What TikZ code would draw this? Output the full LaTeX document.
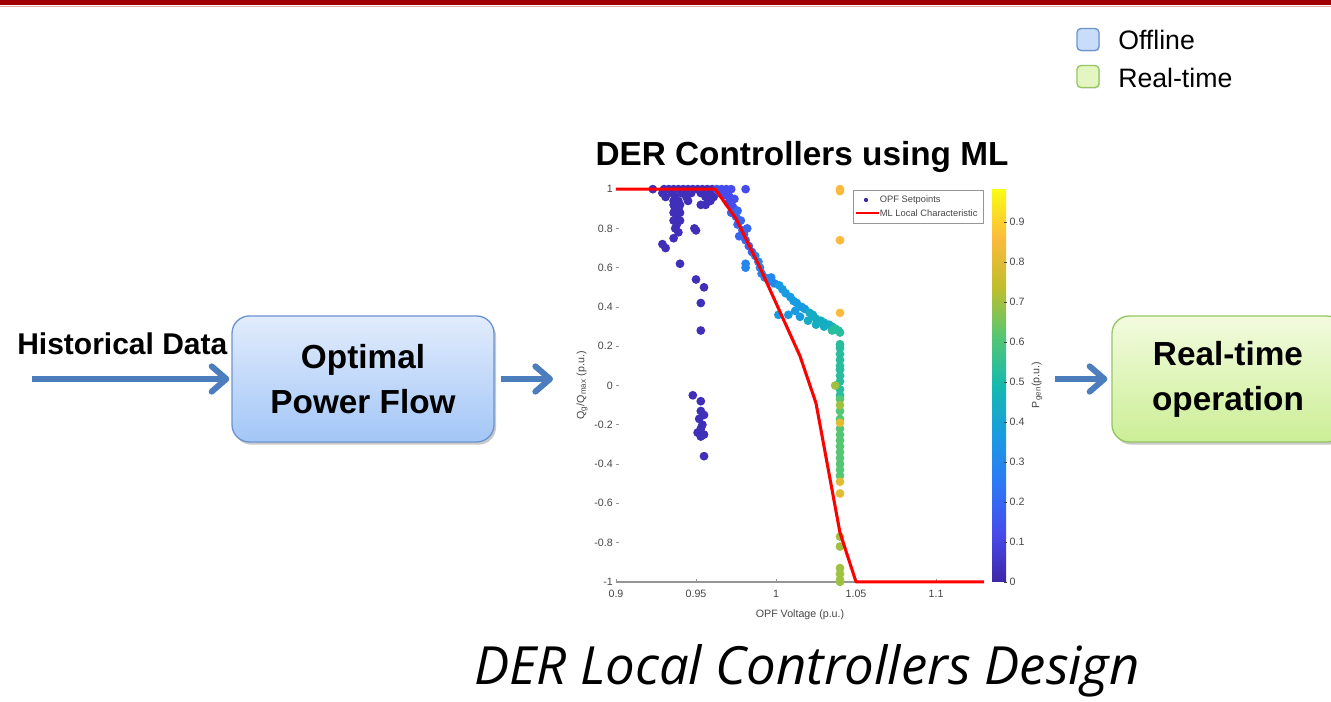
\documentclass[tikz,border=0pt]{standalone}
\usepackage{fontspec}
\setmainfont{Liberation Sans}
\newfontfamily\captionfont{Open Sans}
\usetikzlibrary{positioning,calc,arrows.meta,shadows}
\definecolor{slideRed}{RGB}{160,0,0}
\definecolor{slidePink}{RGB}{228,170,170}
\definecolor{flowBlue}{RGB}{76,126,190}
\definecolor{offTop}{RGB}{226,236,252}
\definecolor{offBottom}{RGB}{163,198,247}
\definecolor{offEdge}{RGB}{108,148,208}
\definecolor{rtTop}{RGB}{242,251,222}
\definecolor{rtBottom}{RGB}{204,238,150}
\definecolor{rtEdge}{RGB}{150,198,100}
\definecolor{axisGray}{RGB}{150,150,150}
\definecolor{tickGray}{RGB}{70,70,70}
\definecolor{parula0}{RGB}{62,38,168}
\definecolor{parula1}{RGB}{70,75,235}
\definecolor{parula2}{RGB}{45,120,245}
\definecolor{parula3}{RGB}{25,155,225}
\definecolor{parula4}{RGB}{20,185,175}
\definecolor{parula5}{RGB}{85,198,115}
\definecolor{parula6}{RGB}{190,190,45}
\definecolor{parula7}{RGB}{252,186,60}
\definecolor{parula8}{RGB}{249,251,20}
\pgfdeclareverticalshading{parulabar}{100bp}{color(0bp)=(parula0); color(25bp)=(parula0);
  color(31.25bp)=(parula1); color(37.5bp)=(parula2); color(43.75bp)=(parula3);
  color(50bp)=(parula4); color(56.25bp)=(parula5); color(62.5bp)=(parula6);
  color(68.75bp)=(parula7); color(75bp)=(parula8); color(100bp)=(parula8)}

\begin{document}
\begin{tikzpicture}[
  x=0.75pt,y=0.75pt,
  every node/.style={align=center},
  flowbox/.style={rounded corners=13pt, line width=1pt, minimum width=196.5pt, minimum height=94.5pt,
    font=\fontsize{25}{33.75}\selectfont\bfseries,
    drop shadow={shadow xshift=1.5pt, shadow yshift=-2pt, opacity=0.3, fill=black!70}},
  flowarrow/.style={draw=flowBlue, line width=4.5pt, -{Straight Barb[length=11pt,width=19pt,round]}},
  keybox/.style={rounded corners=3pt, line width=1pt, minimum size=16.5pt, inner sep=0pt,
    drop shadow={shadow xshift=0.6pt, shadow yshift=-0.8pt, opacity=0.25}},
  keytext/.style={font=\fontsize{20}{24}\selectfont, anchor=base west, inner sep=0pt},
  tick/.style={font=\fontsize{8}{9}\selectfont, text=tickGray, inner sep=1pt},
  axislabel/.style={font=\fontsize{8}{9}\selectfont, text=tickGray, inner sep=1pt},
  keysmall/.style={font=\fontsize{7}{8}\selectfont, text=tickGray, inner sep=0.5pt}
]
\path[use as bounding box] (0,0) rectangle (1331,702);

% slide header bar
\fill[slideRed] (0,697) rectangle (1331,702);
\draw[slidePink, line width=0.6pt] (0,696) -- (1331,696);

% Offline / Real-time key
\node[keybox, draw=offEdge, fill=offTop!60!offBottom] (keyoff) at (1088,662.5) {};
\node[keytext] (keyofftext) at (1118,652) {Offline};
\node[keybox, draw=rtEdge, fill=rtTop!60!rtBottom] (keyrt) at (1088,625.5) {};
\node[keytext] (keyrttext) at (1118,614) {Real-time};

% flow
\node[font=\fontsize{22.5}{27}\selectfont\bfseries, anchor=base west, inner sep=0pt] (hist) at (17,347) {Historical Data};
\node[flowbox, draw=offEdge, top color=offTop, bottom color=offBottom] (opf) at (363,323) {Optimal\\Power Flow};
\node[flowbox, draw=rtEdge, top color=rtTop, bottom color=rtBottom, minimum width=174pt] (rt) at (1228,323) {Real-time\\operation};

\coordinate (histin) at (32,323);
\coordinate (plotin) at (553,323);
\coordinate (plotout) at (1055,323);
\draw[flowarrow, shorten >=1.5pt] (histin) -- (opf.west);
\draw[flowarrow, shorten <=4.5pt] (opf.east) -- (plotin);
\draw[flowarrow, shorten >=3pt] (plotout) -- (rt.west);

\node[font=\fontsize{25}{30}\selectfont\bfseries, anchor=base] (title) at (802,536) {DER Controllers using ML};

% scatter plot, data coordinates
\begin{scope}[shift={(-824,316.5)}, x=1200pt, y=147.26pt]
  \draw[axisGray, line width=1.1pt] (0.9,-1) -- (1.13,-1);
  \foreach \v [count=\i] in {0.9,0.95,1,1.05,1.1} {
    \draw[axisGray, line width=0.5pt] (\v,-1) -- ++(0,2.5pt);
    \node[tick, anchor=north] (xtick\i) at (\v,-1.035) {\v};
  }
  \foreach \q [count=\i] in {1,0.8,0.6,0.4,0.2,0,-0.2,-0.4,-0.6,-0.8,-1} {
    \draw[axisGray, line width=0.5pt] (0.9,\q) -- ++(2.5pt,0);
    \node[tick, anchor=east] (ytick\i) at (0.899,\q) {\q};
  }

  % OPF setpoints
  \foreach \v/\q in {0.923/1,0.930/1,0.933/1,0.936/1,0.939/1,0.942/1,0.945/1,0.948/1,0.951/1,0.954/1,0.957/1,0.960/1,
      0.929/0.98,0.935/0.98,0.941/0.98,0.947/0.98,0.953/0.98,0.958/0.98,0.931/0.96,0.937/0.96,0.944/0.96,0.956/0.96,0.961/0.96,
      0.936/0.94,0.939/0.94,0.945/0.94,0.959/0.94,0.936/0.92,0.940/0.92,0.953/0.92,0.956/0.92,0.937/0.90,0.939/0.90,
      0.936/0.88,0.940/0.88,0.938/0.86,0.936/0.84,0.940/0.84,0.938/0.82,0.937/0.80,0.949/0.80,0.950/0.79,0.939/0.78,
      0.936/0.75,0.929/0.72,0.931/0.70,0.940/0.62,0.950/0.54,0.955/0.50,0.953/0.42,0.953/0.28,
      0.948/-0.05,0.953/-0.08,0.953/-0.13,0.955/-0.15,0.952/-0.17,0.954/-0.20,0.953/-0.22,0.951/-0.24,0.955/-0.25,0.953/-0.26,0.955/-0.36}
    \fill[parula0!75!parula1] (\v,\q) circle (3.3pt);
  \foreach \v/\q in {0.963/1,0.966/1,0.969/1,0.972/1,0.965/0.98,0.968/0.97,0.970/0.99,0.981/1,0.971/0.96,0.974/0.95,0.970/0.93,0.973/0.91}
    \fill[parula1] (\v,\q) circle (3.3pt);
  \foreach \v/\q in {0.976/0.89,0.972/0.88,0.975/0.86,0.978/0.84,0.976/0.82,0.979/0.79,0.977/0.76,0.981/0.74,0.983/0.71,0.985/0.68,0.980/0.77,0.982/0.80}
    \fill[parula1!40!parula2] (\v,\q) circle (3.3pt);
  \foreach \v/\q in {0.987/0.66,0.989/0.63,0.990/0.60,0.991/0.57,0.993/0.55,0.996/0.53,0.981/0.62,0.981/0.60,0.997/0.55,0.999/0.52}
    \fill[parula2!60!parula3] (\v,\q) circle (3.3pt);
  \foreach \v/\q in {1.002/0.51,1.004/0.49,1.006/0.47,1.009/0.45,1.011/0.43,1.013/0.42,1.016/0.40,1.0015/0.36,1.0077/0.36,1.012/0.38,1.015/0.35,1.018/0.39}
    \fill[parula3] (\v,\q) circle (3.3pt);
  \foreach \v/\q in {1.021/0.37,1.023/0.36,1.025/0.34,1.028/0.33,1.030/0.32,1.020/0.33,1.025/0.31,1.030/0.30,1.033/0.31,1.035/0.30}
    \fill[parula3!40!parula4] (\v,\q) circle (3.3pt);
  \foreach \v/\q in {1.037/0.29,1.039/0.28,1.035/0.28,1.040/0.27,1.040/0.21,1.040/0.19,1.040/0.16,1.040/0.13,1.040/0.10,1.040/0.08,1.040/0.05,1.040/0.02,1.040/-0.02,1.040/-0.05}
    \fill[parula4!70!parula5] (\v,\q) circle (3.3pt);
  \foreach \v/\q in {1.040/-0.07,1.040/-0.13,1.040/-0.17,1.040/-0.22,1.040/-0.25,1.040/-0.28,1.040/-0.31,1.040/-0.34,1.040/-0.37,1.040/-0.40,1.040/-0.43,1.040/-0.46}
    \fill[parula5] (\v,\q) circle (3.3pt);
  \foreach \v/\q in {1.037/0,1.040/-0.10,1.040/-0.77,1.040/-0.82,1.040/-0.93,1.040/-0.96,1.040/-0.99,1.040/-1}
    \fill[parula5!30!parula6] (\v,\q) circle (3.3pt);
  \foreach \v/\q in {1.040/-0.19,1.040/-0.49,1.040/-0.55}
    \fill[parula6!40!parula7] (\v,\q) circle (3.3pt);
  \foreach \v/\q in {1.040/1,1.040/0.99,1.040/0.74,1.040/0.37}
    \fill[parula7] (\v,\q) circle (3.3pt);

  % ML local characteristic
  \draw[red, line width=2.3pt, line join=round]
    (0.9,1) -- (0.962,1) -- (0.975,0.85) -- (0.99,0.6) -- (1.0,0.42) -- (1.015,0.15)
    -- (1.025,-0.09) -- (1.04,-0.75) -- (1.05,-1) -- (1.13,-1);

  \node[axislabel, rotate=90] (ylab) at (0.8788,0) {Q\textsubscript{g}/Q\textsubscript{max} (p.u.)};
  \node[axislabel] (xlab) at (1.015,-1.17) {OPF Voltage (p.u.)};
\end{scope}

% plot legend
\node[draw=axisGray, fill=white, line width=0.6pt, minimum width=97.5pt, minimum height=24.75pt, inner sep=0pt] (plotkey) at (918,495.5) {};
\fill[parula0] (866,502) circle (1.6pt);
\node[keysmall, anchor=west] (keyopf) at (879,502) {OPF Setpoints};
\draw[red, line width=1.8pt] (856,489) -- (879,489);
\node[keysmall, anchor=west] (keyml) at (879,489) {ML Local Characteristic};

% colorbar
\shade[shading=parulabar] (992,120) rectangle (1006,512);
\foreach \p [count=\i] in {0,0.1,0.2,0.3,0.4,0.5,0.6,0.7,0.8,0.9} {
  \draw[tickGray, line width=0.4pt] (1004,{120+\p*400}) -- (1007,{120+\p*400});
  \node[tick, anchor=west] (ctick\i) at (1008,{120+\p*400}) {\p};
}
\node[axislabel, rotate=90] (cbarlab) at (1037,317) {P\textsubscript{gen}(p.u.)};

\node[font=\captionfont\itshape\fontsize{39.5}{45}\selectfont, anchor=base] (caption) at (807,17) {DER Local Controllers Design};
\end{tikzpicture}
\end{document}
